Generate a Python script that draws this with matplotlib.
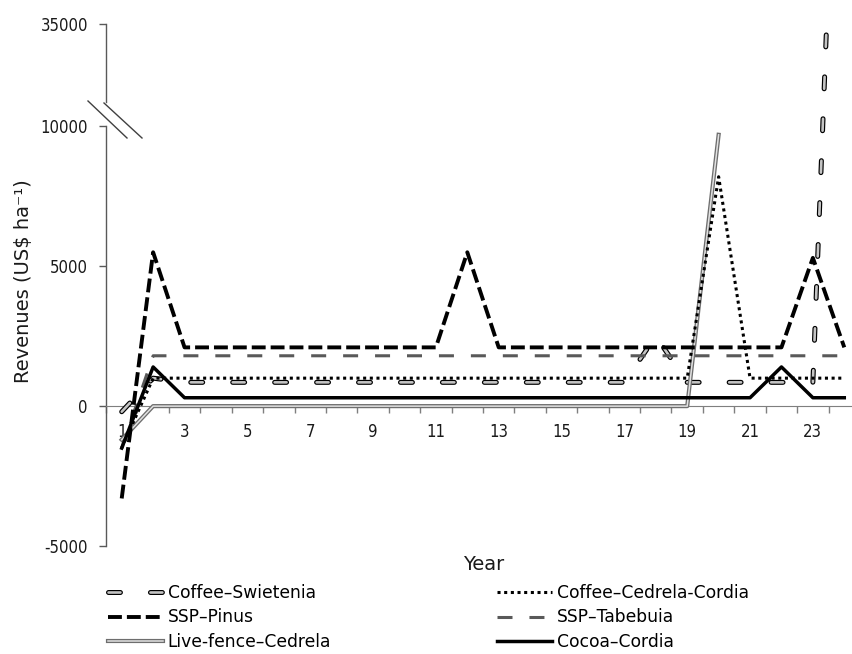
import numpy as np
import matplotlib
matplotlib.use('Agg')
import matplotlib.pyplot as plt
from matplotlib.lines import Line2D
from matplotlib.legend_handler import HandlerTuple

plt.rcParams['font.family'] = ['DejaVu Sans']
plt.rcParams['font.size'] = 12
plt.rcParams['lines.scale_dashes'] = False

years = np.arange(1, 25)

# revenues (US$ per ha)
coffee_swietenia = [-200, 1000] + [850] * 15 + [2500, 850, 850, 850, 850, 850, 147000]
coffee_cedrela_cordia = [-1500, 1000] + [1000] * 17 + [8200, 1000, 1000, 1000, 1000]
ssp_pinus = [-3300, 5500] + [2100] * 9 + [5500] + [2100] * 10 + [5300, 2100]
ssp_tabebuia = [-1500, 1800] + [1800] * 22
live_fence_cedrela = [-1200] + [0] * 18 + [9700] + [np.nan] * 4
cocoa_cordia = [-1500, 1400] + [300] * 19 + [1400, 300, 300]

y_ticks = [-5000, 0, 5000, 10000, 35000]
x_labels = [str(v) for v in range(1, 24, 2)]

# broken axis: everything above 10000 is squeezed
brk = 10000
k = 0.1464


def fwd(y):
    y = np.asarray(y, dtype=float)
    return np.where(y <= brk, y, brk + (y - brk) * k)


def inv(u):
    u = np.asarray(u, dtype=float)
    return np.where(u <= brk, u, brk + (u - brk) / k)


W, H = 853, 654
fig = plt.figure(figsize=(W / 100, H / 100), dpi=100)
ax = fig.add_axes([106 / W, 1 - 546 / H, 754 / W, (546 - 24) / H])
ax.set_yscale('function', functions=(fwd, inv))
ax.set_ylim(-5000, 35000)
ax.set_xlim(0.5, 24.5)

# series
cs_o, = ax.plot(years, coffee_swietenia, color='black', lw=3.6,
                dashes=(8.6, 21.6), dash_capstyle='round', zorder=3)
cs_i, = ax.plot(years, coffee_swietenia, color='#c4c4c4', lw=1.9,
                dashes=(8.6, 21.6), dash_capstyle='round', zorder=3)
ccc, = ax.plot(years, coffee_cedrela_cordia, color='black', lw=2.2,
               dashes=(2.2, 2.6), zorder=4)
sp, = ax.plot(years, ssp_pinus, color='black', lw=2.8, dashes=(10, 3.6), zorder=4)
st, = ax.plot(years, ssp_tabebuia, color='#595959', lw=2.2, dashes=(10.8, 12.2), zorder=3)
lf_o, = ax.plot(years, live_fence_cedrela, color='#6e6e6e', lw=3.0, zorder=3)
lf_i, = ax.plot(years, live_fence_cedrela, color='#e2e2e2', lw=1.1, zorder=3)
cc, = ax.plot(years, cocoa_cordia, color='black', lw=2.5, zorder=4)

# axes look
for s in ['top', 'right', 'left']:
    ax.spines[s].set_visible(False)
ax.spines['bottom'].set_position(('data', 0))
ax.spines['bottom'].set_color('#7f7f7f')
ax.spines['bottom'].set_zorder(2)

ax.set_yticks(y_ticks)
ax.set_yticklabels([str(v) for v in y_ticks], fontstretch='condensed', fontsize=12)
ax.tick_params(axis='y', length=5, width=1, color='#595959', pad=8, labelcolor='#1a1a1a')

ax.set_xticks(range(1, 24, 2))
ax.set_xticklabels(x_labels, fontstretch='condensed', fontsize=12)
ax.set_xticks(np.arange(0.5, 25, 1), minor=True)
ax.tick_params(axis='x', which='major', length=0, pad=12, labelcolor='#1a1a1a')
ax.tick_params(axis='x', which='minor', length=5, width=1, color='#7f7f7f', direction='out')

# left spine in two pieces with a break
yt = ax.get_yaxis_transform()
ax.plot([0, 0], [-5000, 10000], transform=yt, color='#595959', lw=1, clip_on=False)
ax.plot([0, 0], [16000, 35000], transform=yt, color='#595959', lw=1, clip_on=False)
for (x0, y0, x1, y1) in [(88, 101, 127, 138), (104, 103, 142, 138)]:
    fig.add_artist(Line2D([x0 / W, x1 / W], [1 - y0 / H, 1 - y1 / H],
                          transform=fig.transFigure, color='#404040', lw=1))

fig.text(24 / W, 1 - 281 / H, 'Revenues (US$ ha⁻¹)', rotation=90,
         ha='center', va='center', fontsize=14, color='#1a1a1a')
fig.text(484 / W, 1 - 565 / H, 'Year', ha='center', va='center',
         fontsize=14, color='#1a1a1a')

# legend in two columns
common = dict(frameon=False, fontsize=12.3, handlelength=3.2, handletextpad=0.3,
              labelspacing=0.38, borderpad=0, borderaxespad=0, loc='upper left',
              handler_map={tuple: HandlerTuple(ndivide=1)})
fig.legend([(cs_o, cs_i), sp, (lf_o, lf_i)],
           ['Coffee–Swietenia', 'SSP–Pinus', 'Live-fence–Cedrela'],
           bbox_to_anchor=(108 / W, 1 - 584 / H), **common)
fig.legend([ccc, st, cc],
           ['Coffee–Cedrela-Cordia', 'SSP–Tabebuia', 'Cocoa–Cordia'],
           bbox_to_anchor=(497 / W, 1 - 584 / H), **common)

fig.savefig('out.png', dpi=100)
